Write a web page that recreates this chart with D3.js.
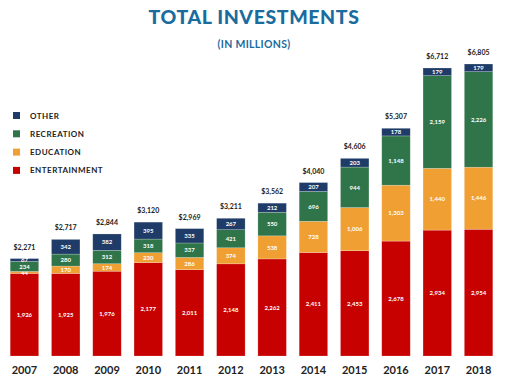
<!DOCTYPE html>
<html><head><meta charset="utf-8">
<script src="https://cdn.jsdelivr.net/npm/d3@7"></script>
<style>body{margin:0;background:#fff}svg{display:block}</style>
</head><body><svg id="c" width="508" height="385"></svg>
<script>
const years = ["2007","2008","2009","2010","2011","2012","2013","2014","2015","2016","2017","2018"];
const entertainment = [1926,1925,1976,2177,2011,2148,2262,2411,2453,2678,2934,2954];
const education = [44,170,174,230,286,374,538,728,1006,1303,1440,1446];
const recreation = [234,280,312,318,337,421,550,696,944,1148,2159,2226];
const other = [67,342,382,395,335,267,212,207,203,178,179,179];
const totals = ["$2,271","$2,717","$2,844","$3,120","$2,969","$3,211","$3,562","$4,040","$4,606","$5,307","$6,712","$6,805"];
const seriesNames = ["ENTERTAINMENT","EDUCATION","RECREATION","OTHER"];
const colors = ["#c70000","#f0a033","#2f7549","#1f3c68"];

const svg = d3.select("#c");
const font = "Lato, 'Open Sans', sans-serif";
const rows = years.map((y,i)=>({year:y, ENTERTAINMENT:entertainment[i], EDUCATION:education[i], RECREATION:recreation[i], OTHER:other[i]}));
const stack = d3.stack().keys(seriesNames)(rows);

const x = d3.scaleBand().domain(years).range([4, 499]).paddingInner(0.31).paddingOuter(0.15);
const maxTotal = d3.max(rows, r=>r.ENTERTAINMENT+r.EDUCATION+r.RECREATION+r.OTHER);
const y = d3.scaleLinear().domain([0, maxTotal]).range([356, 64]);

svg.append("text").attr("x",254).attr("y",24).attr("text-anchor","middle")
  .attr("font-family",font).attr("font-weight",900).attr("font-size",19.5).attr("fill","#1a6c9e")
  .attr("letter-spacing",0.6).text("TOTAL INVESTMENTS");
svg.append("text").attr("x",254).attr("y",48).attr("text-anchor","middle")
  .attr("font-family",font).attr("font-weight",700).attr("font-size",10.5).attr("fill","#1a6c9e")
  .attr("letter-spacing",0.3).text("(IN MILLIONS)");

const g = svg.append("g");
stack.forEach((s,si)=>{
  g.selectAll(null).data(s).enter().append("rect")
    .attr("x",d=>x(d.data.year)).attr("width",x.bandwidth())
    .attr("y",d=>y(d[1])).attr("height",d=>y(d[0])-y(d[1]))
    .attr("fill",colors[si]).attr("stroke","rgba(255,255,255,0.35)").attr("stroke-width",0.6);
  g.selectAll(null).data(s).enter().append("text")
    .attr("x",d=>x(d.data.year)+x.bandwidth()/2)
    .attr("y",d=>(y(d[0])+y(d[1]))/2+2.2)
    .attr("text-anchor","middle").attr("font-family",font).attr("font-weight",700)
    .attr("font-size",6).attr("fill","#fff")
    .text(d=>d3.format(",")(d.data[seriesNames[si]]));
});

svg.selectAll(null).data(rows).enter().append("text")
  .attr("x",d=>x(d.year)+x.bandwidth()/2)
  .attr("y",d=>y(d.ENTERTAINMENT+d.EDUCATION+d.RECREATION+d.OTHER)-9)
  .attr("text-anchor","middle").attr("font-family",font).attr("font-weight",700)
  .attr("font-size",7).attr("fill","#222").text((d,i)=>totals[i]);

svg.append("g").attr("transform","translate(0,356)")
  .call(d3.axisBottom(x).tickSize(0).tickPadding(10))
  .call(a=>a.select(".domain").remove())
  .call(a=>a.selectAll("text").attr("font-family",font).attr("font-weight",700).attr("font-size",11).attr("fill","#222"));

const legendOrder = ["OTHER","RECREATION","EDUCATION","ENTERTAINMENT"];
const lg = svg.append("g");
legendOrder.forEach((n,i)=>{
  const ly = 112 + i*18.3;
  lg.append("rect").attr("x",13).attr("y",ly).attr("width",7).attr("height",7).attr("fill",colors[seriesNames.indexOf(n)]);
  lg.append("text").attr("x",30).attr("y",ly+6.5).attr("font-family",font).attr("font-weight",700)
    .attr("font-size",8).attr("letter-spacing",0.5).attr("fill","#222").text(n);
});
</script></body></html>
